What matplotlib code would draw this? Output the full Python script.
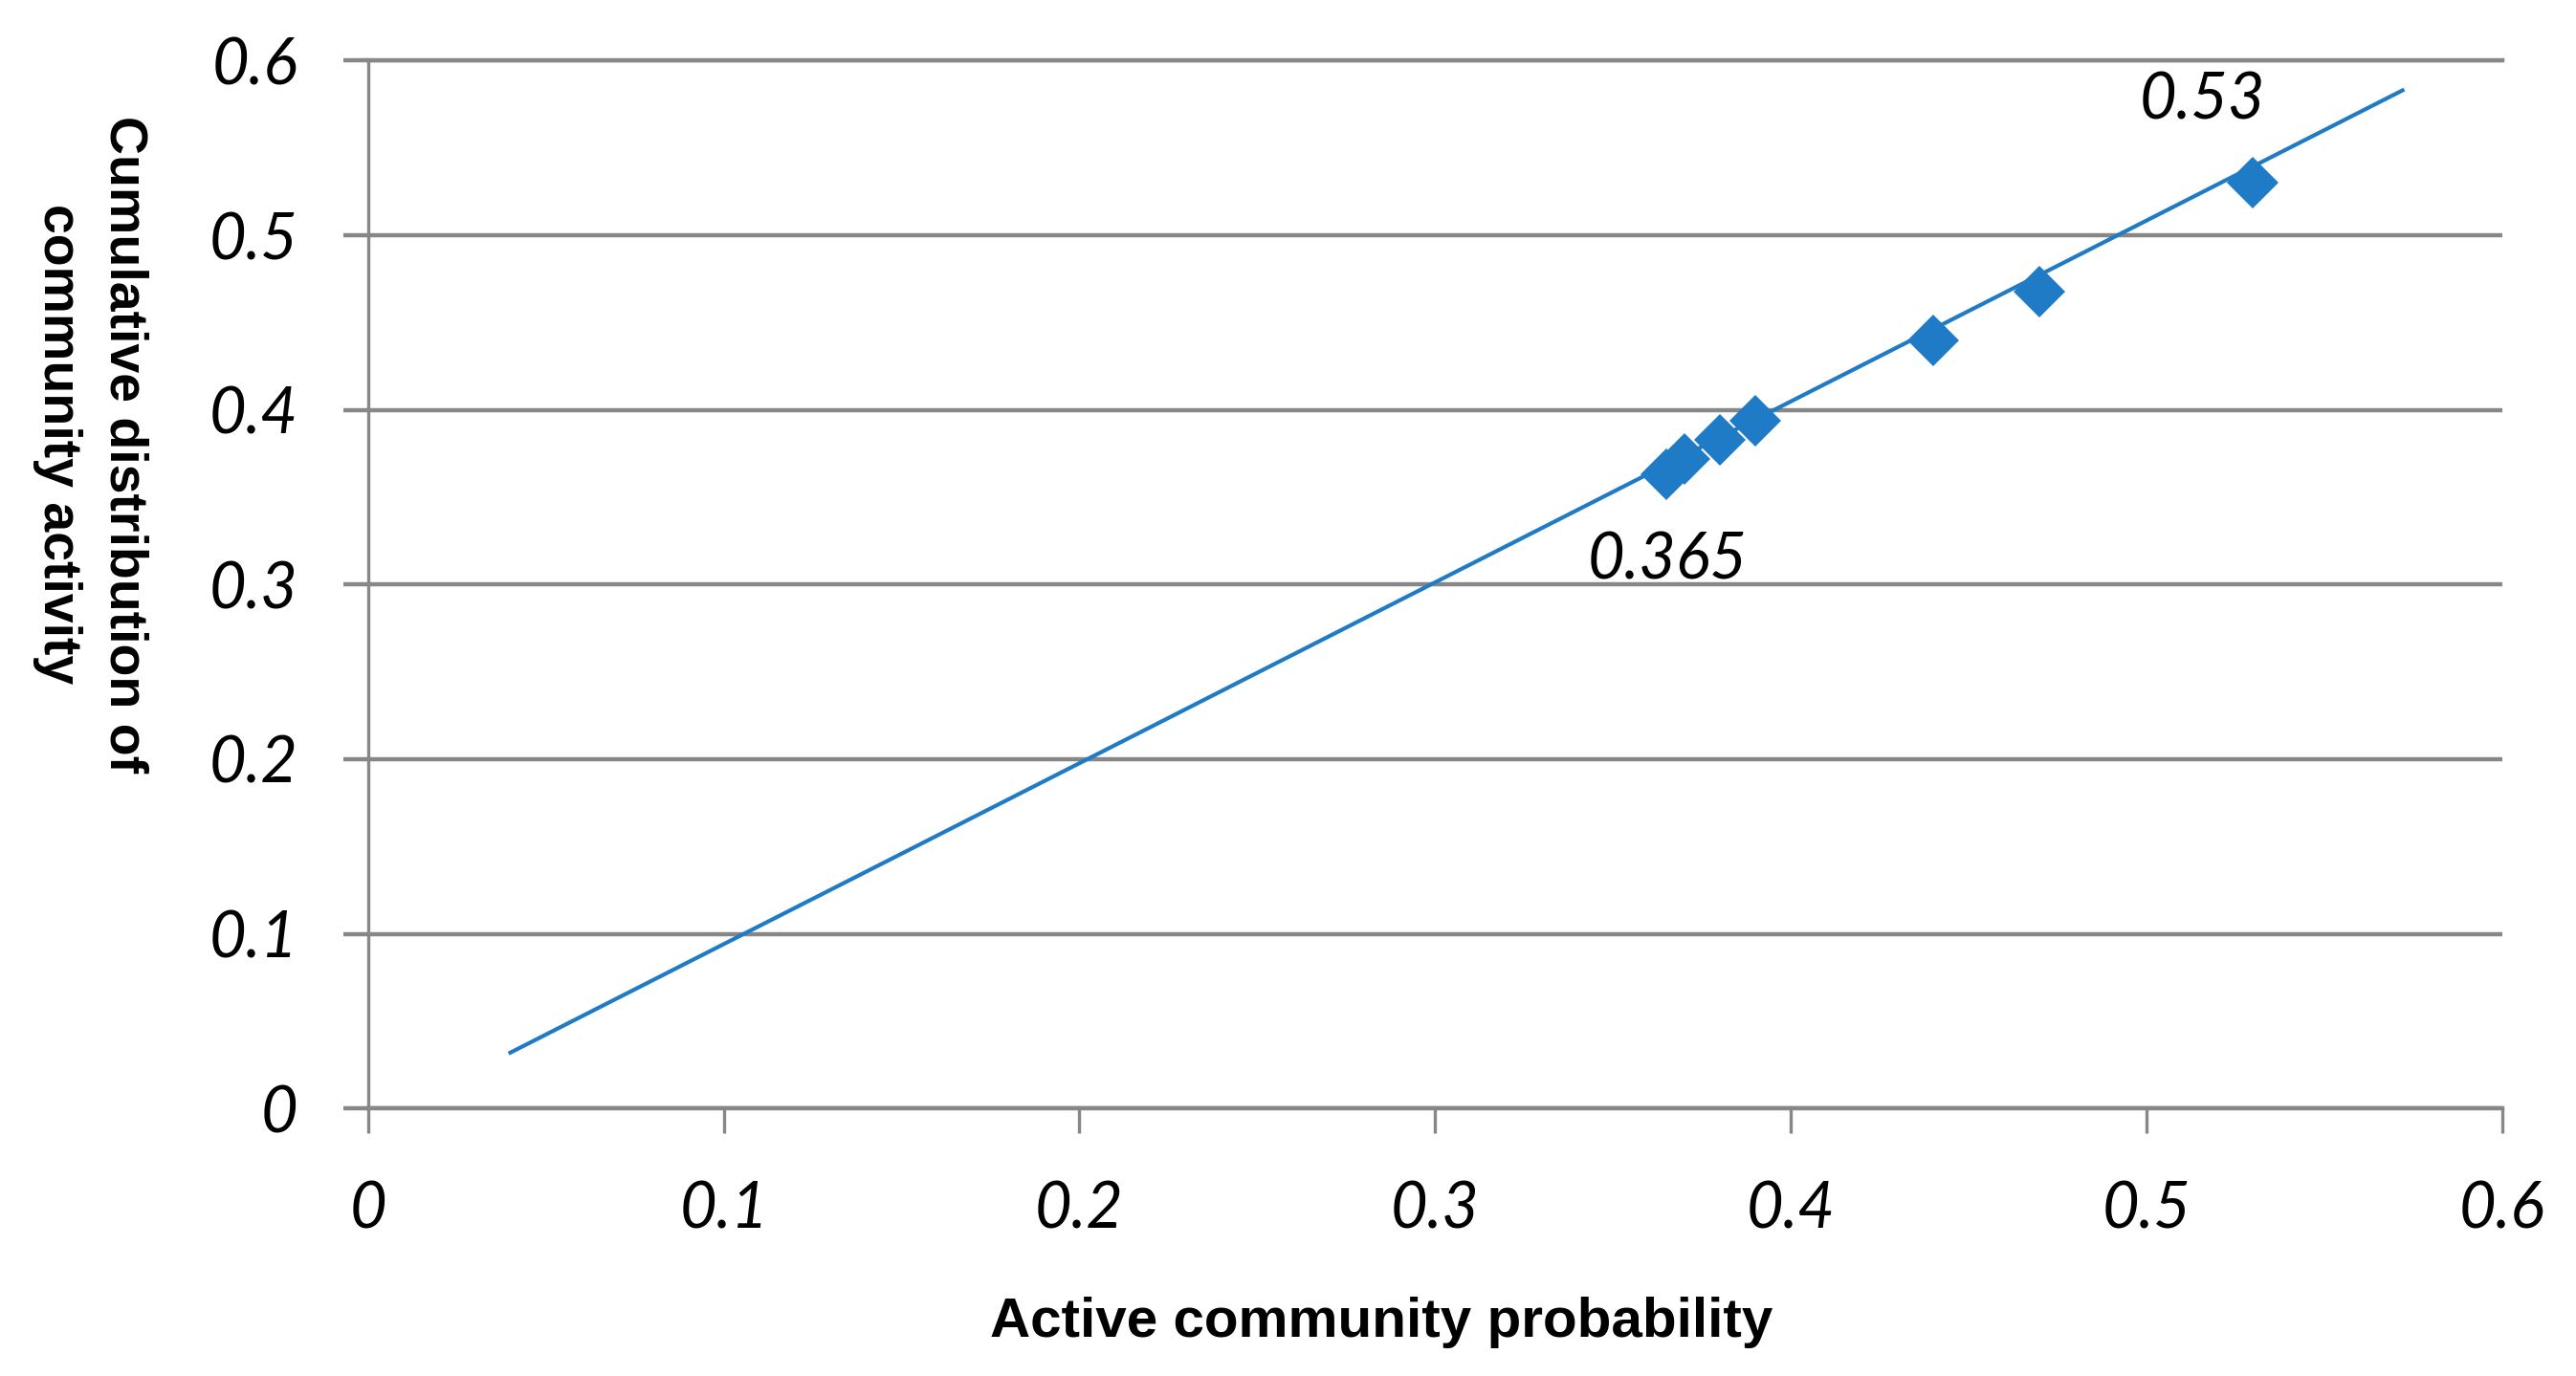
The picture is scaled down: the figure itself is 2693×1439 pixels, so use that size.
import matplotlib.pyplot as plt

# active community probability vs cumulative distribution of community activity
prob_x = [0.365, 0.370, 0.380, 0.390, 0.440, 0.470, 0.530]
cum_y = [0.363, 0.372, 0.383, 0.394, 0.440, 0.468, 0.530]

# trendline end points as drawn in the source
trend_x = [0.040, 0.572]
trend_y = [0.032, 0.583]

ticks = [0, 0.1, 0.2, 0.3, 0.4, 0.5, 0.6]
tick_labels = ["0", "0.1", "0.2", "0.3", "0.4", "0.5", "0.6"]

annotations = [("0.365", 0.3652, 0.3134), ("0.53", 0.5156, 0.5768)]

COLOR_LINE = "#1f7bc6"
COLOR_GRID = "#878787"
COLOR_INK = "#000000"

fig = plt.figure(figsize=(26.93, 14.39), dpi=100)
ax = fig.add_axes([0.1429, 0.1944, 0.8284, 0.7615])

ax.plot(trend_x, trend_y, color=COLOR_LINE, linewidth=3.0, zorder=3)
ax.plot(prob_x, cum_y, linestyle="none", marker="D", markersize=28,
        color=COLOR_LINE, markeredgewidth=0, zorder=4)

for text, x, y in annotations:
    ax.text(x, y, text, ha="center", va="center", fontsize=48,
            family="Lato", style="italic", color=COLOR_INK)

ax.set_xlim(0, 0.6)
ax.set_ylim(0, 0.6)
ax.set_xticks(ticks)
ax.set_xticklabels(tick_labels)
ax.set_yticks(ticks)
ax.set_yticklabels(tick_labels)

for lab in ax.get_xticklabels() + ax.get_yticklabels():
    lab.set_fontfamily("Lato")
    lab.set_fontstyle("italic")
    lab.set_fontsize(48)
    lab.set_color(COLOR_INK)

ax.yaxis.grid(True, color=COLOR_GRID, linewidth=3.2)
ax.set_axisbelow(True)
ax.spines["right"].set_visible(False)
ax.spines["top"].set_color(COLOR_GRID)
ax.spines["top"].set_linewidth(3.2)
ax.spines["bottom"].set_color(COLOR_GRID)
ax.spines["bottom"].set_linewidth(3.2)
ax.spines["left"].set_color(COLOR_GRID)
ax.spines["left"].set_linewidth(2.4)

ax.tick_params(axis="y", direction="out", length=19, width=3.2,
               color=COLOR_GRID, pad=34)
ax.tick_params(axis="x", direction="out", length=19, width=2.4,
               color=COLOR_GRID, pad=35)

fig.text(0.5363, 0.039, "Active community probability", ha="center", va="center",
         fontsize=42, family="Liberation Sans", weight="bold", color=COLOR_INK)
fig.text(0.0352, 0.6775, "Cumulative distribution of\ncommunity activity",
         ha="center", va="center", rotation=-90, linespacing=1.45,
         fontsize=40, family="Liberation Sans", weight="bold", color=COLOR_INK)

fig.savefig("out.png", facecolor="white")
